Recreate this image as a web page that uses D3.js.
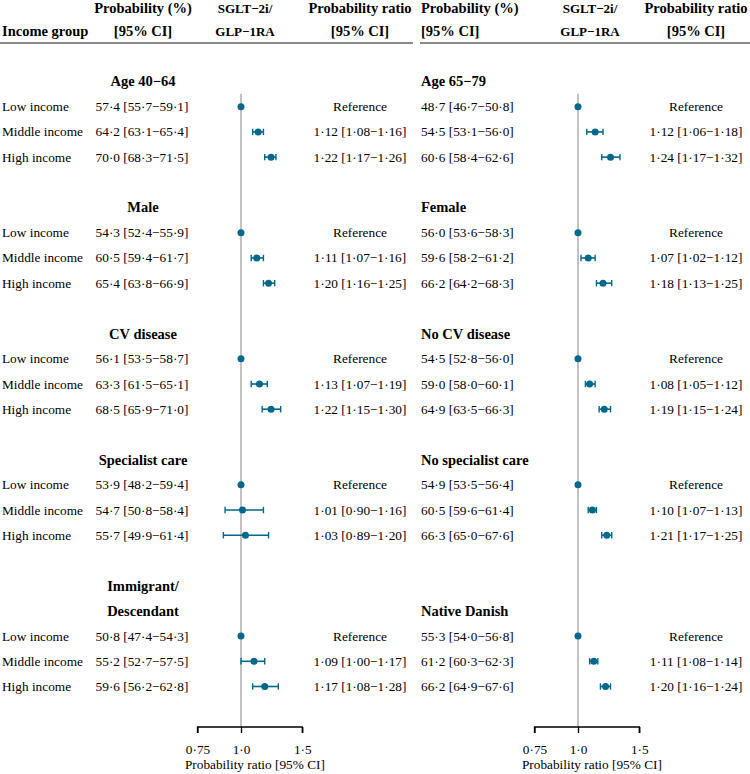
<!DOCTYPE html>
<html>
<head>
<meta charset="utf-8">
<script src="https://cdn.jsdelivr.net/npm/d3@7"></script>
<style>
  html, body { margin: 0; padding: 0; background: #fff; }
  svg { display: block; }
  svg text { font-family: "Liberation Serif", "Times New Roman", Times, serif; }
</style>
</head>
<body>
<svg id="chart" width="750" height="774"></svg>
<script>
// ---------- data ----------
const incomeLevels = ["Low income", "Middle income", "High income"];

const leftTitles  = [["Age 40−64"], ["Male"], ["CV disease"], ["Specialist care"], ["Immigrant/", "Descendant"]];
const rightTitles = [["Age 65−79"], ["Female"], ["No CV disease"], ["No specialist care"], ["Native Danish"]];

// probability (%) [estimate, lower, upper] per group, per income level
const leftProb = [
  [[57.4, 55.7, 59.1], [64.2, 63.1, 65.4], [70.0, 68.3, 71.5]],
  [[54.3, 52.4, 55.9], [60.5, 59.4, 61.7], [65.4, 63.8, 66.9]],
  [[56.1, 53.5, 58.7], [63.3, 61.5, 65.1], [68.5, 65.9, 71.0]],
  [[53.9, 48.2, 59.4], [54.7, 50.8, 58.4], [55.7, 49.9, 61.4]],
  [[50.8, 47.4, 54.3], [55.2, 52.7, 57.5], [59.6, 56.2, 62.8]]
];
const rightProb = [
  [[48.7, 46.7, 50.8], [54.5, 53.1, 56.0], [60.6, 58.4, 62.6]],
  [[56.0, 53.6, 58.3], [59.6, 58.2, 61.2], [66.2, 64.2, 68.3]],
  [[54.5, 52.8, 56.0], [59.0, 58.0, 60.1], [64.9, 63.5, 66.3]],
  [[54.9, 53.5, 56.4], [60.5, 59.6, 61.4], [66.3, 65.0, 67.6]],
  [[55.3, 54.0, 56.8], [61.2, 60.3, 62.3], [66.2, 64.9, 67.6]]
];

// probability ratio [estimate, lower, upper]; null = reference
const leftRatio = [
  [null, [1.12, 1.08, 1.16], [1.22, 1.17, 1.26]],
  [null, [1.11, 1.07, 1.16], [1.20, 1.16, 1.25]],
  [null, [1.13, 1.07, 1.19], [1.22, 1.15, 1.30]],
  [null, [1.01, 0.90, 1.16], [1.03, 0.89, 1.20]],
  [null, [1.09, 1.00, 1.17], [1.17, 1.08, 1.28]]
];
const rightRatio = [
  [null, [1.12, 1.06, 1.18], [1.24, 1.17, 1.32]],
  [null, [1.07, 1.02, 1.12], [1.18, 1.13, 1.25]],
  [null, [1.08, 1.05, 1.12], [1.19, 1.15, 1.24]],
  [null, [1.10, 1.07, 1.13], [1.21, 1.17, 1.25]],
  [null, [1.11, 1.08, 1.14], [1.20, 1.16, 1.24]]
];

const axisTicks = [0.75, 1.0, 1.5];
const axisTickLabels = ["0·75", "1·0", "1·5"];
const axisTitle = "Probability ratio [95% CI]";

// ---------- layout ----------
const FONT = "Liberation Serif, Times New Roman, Times, serif";
const svg = d3.select("#chart");
const COL = "#00688B";
const fsData = 13.3, fsBold = 14.5, fsSmallBold = 13;

// compute row indices
let cursor = 0;
const groupRows = leftTitles.map((lt, g) => {
  const n = Math.max(lt.length, rightTitles[g].length);
  const r = { titleEnd: cursor + n - 1, dataStart: cursor + n };
  cursor += n + 4;
  return r;
});
const lastRow = groupRows[groupRows.length - 1].dataStart + 2;
const y = d3.scaleLinear().domain([0, lastRow]).range([81.5, 686.5]);

const fmt1 = v => d3.format(".1f")(v).replace(".", "·");
const fmt2 = v => d3.format(".2f")(v).replace(".", "·");
const ciText = (a, f) => `${f(a[0])} [${f(a[1])}−${f(a[2])}]`;

const panels = [
  { titles: leftTitles, prob: leftProb, ratio: leftRatio,
    range: [197.5, 302.3], labelX: 2, probX: 142, probAnchor: "middle",
    titleX: 143, titleAnchor: "middle", ratioX: 360, sgltX: 245,
    headProbX: 143, headProbAnchor: "middle", lineX: [0, 413], showLabels: true },
  { titles: rightTitles, prob: rightProb, ratio: rightRatio,
    range: [534.5, 639.3], labelX: null, probX: 421, probAnchor: "start",
    titleX: 421, titleAnchor: "start", ratioX: 696, sgltX: 590,
    headProbX: 421, headProbAnchor: "start", lineX: [420, 750], showLabels: false }
];

const axisY = 727;

function txt(g, x, yv, s, opts = {}) {
  const t = g.append("text").attr("x", x).attr("y", yv)
    .attr("font-family", FONT)
    .attr("font-size", opts.size || fsData)
    .attr("text-anchor", opts.anchor || "start")
    .attr("fill", "#000")
    .text(s);
  if (opts.bold) t.attr("font-weight", "bold");
  if (opts.dy) t.attr("dy", opts.dy);
  return t;
}

panels.forEach(p => {
  const x = d3.scaleLog().domain([0.75, 1.5]).range(p.range);
  const g = svg.append("g");

  // header
  const h1 = 12.5, h2 = 36;
  if (p.showLabels) txt(g, 2, h2, "Income group", { bold: true, size: fsBold });
  txt(g, p.headProbX, h1, "Probability (%)", { bold: true, size: fsBold, anchor: p.headProbAnchor });
  txt(g, p.headProbX, h2, "[95% CI]", { bold: true, size: fsBold, anchor: p.headProbAnchor });
  txt(g, p.sgltX, h1, "SGLT−2i/", { bold: true, size: fsSmallBold, anchor: "middle" });
  txt(g, p.sgltX, h2, "GLP−1RA", { bold: true, size: fsSmallBold, anchor: "middle" });
  txt(g, p.ratioX, h1, "Probability ratio", { bold: true, size: fsBold, anchor: "middle" });
  txt(g, p.ratioX, h2, "[95% CI]", { bold: true, size: fsBold, anchor: "middle" });
  g.append("line").attr("x1", p.lineX[0]).attr("x2", p.lineX[1]).attr("y1", 43).attr("y2", 43)
    .attr("stroke", "#8a8a8a").attr("stroke-width", 2);

  // reference line
  g.append("line").attr("x1", x(1)).attr("x2", x(1))
    .attr("y1", y(groupRows[0].dataStart) - 13).attr("y2", axisY)
    .attr("stroke", "#b3b3b3").attr("stroke-width", 1.6);

  // groups
  p.titles.forEach((lines, gi) => {
    const gr = groupRows[gi];
    lines.forEach((t, k) => {
      txt(g, p.titleX, y(gr.titleEnd - (lines.length - 1 - k)), t,
        { bold: true, size: fsBold, anchor: p.titleAnchor, dy: "0.34em" });
    });
    incomeLevels.forEach((lvl, li) => {
      const yy = y(gr.dataStart + li);
      if (p.showLabels) txt(g, p.labelX, yy, lvl, { dy: "0.34em" });
      txt(g, p.probX, yy, ciText(p.prob[gi][li], fmt1), { anchor: p.probAnchor, dy: "0.34em" });
      const r = p.ratio[gi][li];
      txt(g, p.ratioX, yy, r ? ciText(r, fmt2) : "Reference", { anchor: "middle", dy: "0.34em" });
      if (r) {
        g.append("line").attr("x1", x(r[1])).attr("x2", x(r[2])).attr("y1", yy).attr("y2", yy)
          .attr("stroke", COL).attr("stroke-width", 1.6);
        [r[1], r[2]].forEach(v => {
          g.append("line").attr("x1", x(v)).attr("x2", x(v)).attr("y1", yy - 3.2).attr("y2", yy + 3.2)
            .attr("stroke", COL).attr("stroke-width", 1.4);
        });
      }
      g.append("circle").attr("cx", x(r ? r[0] : 1)).attr("cy", yy).attr("r", 3.5).attr("fill", COL);
    });
  });

  // axis
  const ax = g.append("g").attr("transform", `translate(0,${axisY})`)
    .call(d3.axisBottom(x).tickValues(axisTicks).tickSize(6)
      .tickFormat((d, i) => axisTickLabels[i]));
  ax.attr("font-family", FONT);
  ax.select(".domain").attr("d", `M${p.range[0]},6V0H${p.range[1]}V6`).attr("stroke", "#000").attr("stroke-width", 1.3);
  ax.selectAll(".tick line").attr("stroke", "#000").attr("stroke-width", 1.3);
  ax.selectAll(".tick text").attr("font-family", FONT).attr("font-size", fsData)
    .attr("fill", "#000").attr("y", 0).attr("dy", "27");
  txt(g, (p.range[0] + p.range[1]) / 2 + 5, 769, axisTitle, { anchor: "middle" });
});
</script>
</body>
</html>
